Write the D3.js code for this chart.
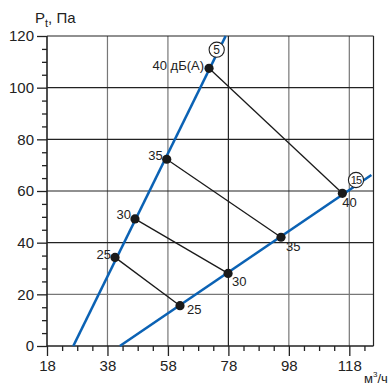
<!DOCTYPE html>
<html><head><meta charset="utf-8">
<script src="https://cdn.jsdelivr.net/npm/d3@7"></script>
<style>body{margin:0;background:#fff}svg{display:block}text{font-family:"Liberation Sans",Arial,sans-serif}</style>
</head><body>
<svg id="c" width="390" height="385"></svg>
<script>
const xTicks = [18, 38, 58, 78, 98, 118];
const yTicks = [0, 20, 40, 60, 80, 100, 120];
const levels = ["25", "30", "35", "40"];
const line5 = [[26.7, 0], [77.1, 120]];
const line15 = [[42.1, 0], [125.3, 66.2]];
const pts5 = [[40.5, 34.3], [47.1, 49.2], [57.6, 72.3], [71.6, 107.5]];
const pts15 = [[62.0, 15.6], [77.9, 28.1], [95.4, 42.1], [115.7, 59.1]];
const labels5 = ["25", "30", "35", "40 дБ(A)"];
const labels15 = ["25", "30", "35", "40"];

const svg = d3.select("#c");
const L = 47, R = 373.5, T = 36, B = 346;
const x = d3.scaleLinear().domain([18, 126]).range([L, R]);
const y = d3.scaleLinear().domain([0, 120]).range([B, T]);

// grid
const g = svg.append("g");
xTicks.slice(1).forEach(v => {
  g.append("line").attr("x1", x(v)).attr("x2", x(v)).attr("y1", T).attr("y2", B)
    .attr("stroke", v === 78 ? "#222" : "#777").attr("stroke-width", 1.2);
});
yTicks.slice(1).forEach(v => {
  g.append("line").attr("x1", L).attr("x2", R).attr("y1", y(v)).attr("y2", y(v))
    .attr("stroke", v === 20 ? "#777" : "#222").attr("stroke-width", 1.2);
});
g.append("line").attr("x1", R).attr("x2", R).attr("y1", T).attr("y2", B).attr("stroke", "#222").attr("stroke-width", 1.2);

// axes
const xAxis = d3.axisBottom(x).tickValues(xTicks).tickSize(10).tickPadding(4);
const xMinor = d3.axisBottom(x).tickValues(d3.range(18, 126, 5).filter(v => !xTicks.includes(v))).tickSize(5).tickFormat("");
const yAxis = d3.axisLeft(y).tickValues(yTicks).tickSize(10).tickPadding(3);
const yMinor = d3.axisLeft(y).tickValues(d3.range(0, 121, 5).filter(v => !yTicks.includes(v))).tickSize(5).tickFormat("");

function style(sel) {
  sel.select(".domain").attr("stroke", "#222").attr("stroke-width", 1.6);
  sel.selectAll(".tick line").attr("stroke", "#222").attr("stroke-width", 1.3);
  sel.selectAll("text").attr("font-size", 15).attr("fill", "#222");
}
svg.append("g").attr("transform", `translate(0,${B})`).call(xMinor).call(style).select(".domain").remove();
svg.append("g").attr("transform", `translate(${L},0)`).call(yMinor).call(style).select(".domain").remove();
svg.append("g").attr("transform", `translate(0,${B})`).call(xAxis).call(style)
  .select(".domain").attr("d", `M${L},0H${R}`);
svg.append("g").attr("transform", `translate(${L},0)`).call(yAxis).call(style)
  .select(".domain").attr("d", `M0,${B}V${T}`);

// blue lines
const ln = d3.line().x(d => x(d[0])).y(d => y(d[1]));
[line5, line15].forEach(d => {
  svg.append("path").attr("d", ln(d)).attr("fill", "none").attr("stroke", "#0b62b4").attr("stroke-width", 2.6);
});

// connectors
levels.forEach((lv, i) => {
  svg.append("path").attr("d", ln([pts5[i], pts15[i]])).attr("fill", "none")
    .attr("stroke", "#1a1a1a").attr("stroke-width", 1.3);
});

// dots
pts5.concat(pts15).forEach(p => {
  svg.append("circle").attr("cx", x(p[0])).attr("cy", y(p[1])).attr("r", 4.6).attr("fill", "#1a1a1a");
});

// labels
const off5 = [[-4, 2], [-4, 0], [-4, 1], [-5, 2]];
pts5.forEach((p, i) => {
  svg.append("text").attr("x", x(p[0]) + off5[i][0]).attr("y", y(p[1]) + off5[i][1])
    .attr("text-anchor", "end").attr("font-size", 13).attr("fill", "#222").text(labels5[i]);
});
const off15 = [[7, 8], [4, 13], [5, 14], [0, 14]];
pts15.forEach((p, i) => {
  svg.append("text").attr("x", x(p[0]) + off15[i][0]).attr("y", y(p[1]) + off15[i][1])
    .attr("text-anchor", "start").attr("font-size", 13).attr("fill", "#222").text(labels15[i]);
});

// circled line ids
[["5", 216.7, 49.7], ["15", 356, 180]].forEach(([t, cx, cy]) => {
  svg.append("circle").attr("cx", cx).attr("cy", cy).attr("r", 7.6).attr("fill", "#fff")
    .attr("stroke", "#222").attr("stroke-width", 1.1);
  svg.append("text").attr("x", cx).attr("y", cy + 4.3).attr("text-anchor", "middle")
    .attr("font-size", t.length > 1 ? 11 : 12).attr("letter-spacing", t.length > 1 ? -0.8 : 0)
    .attr("fill", "#222").text(t);
});

// axis titles
const yt = svg.append("text").attr("x", 35).attr("y", 23).attr("font-size", 15).attr("fill", "#222");
yt.append("tspan").text("P");
yt.append("tspan").attr("font-size", 11).attr("dy", 4).text("t");
yt.append("tspan").attr("dy", -4).text(", Па");
const xt = svg.append("text").attr("x", 364).attr("y", 383).attr("font-size", 13).attr("fill", "#222");
xt.append("tspan").text("м");
xt.append("tspan").attr("font-size", 8).attr("dy", -6).text("3");
xt.append("tspan").attr("dy", 6).text("/ч");
</script>
</body></html>
